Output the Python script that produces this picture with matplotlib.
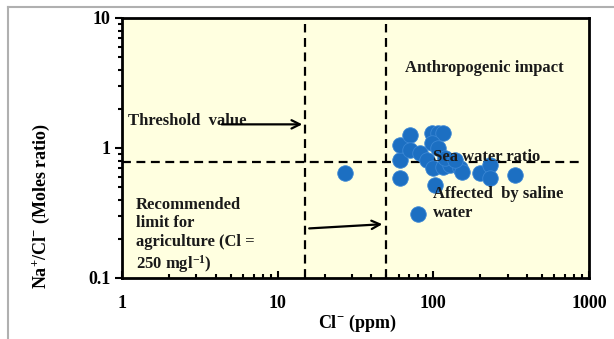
import matplotlib
matplotlib.use("Agg")
import matplotlib.pyplot as plt
from matplotlib.lines import Line2D
import numpy as np

plt.rcParams["font.family"] = ["Liberation Serif", "DejaVu Serif"]
plt.rcParams["font.weight"] = "bold"
plt.rcParams["mathtext.fontset"] = "custom"
plt.rcParams["mathtext.rm"] = "Liberation Serif:bold"
plt.rcParams["mathtext.default"] = "rm"

# Cl- (ppm) and Na+/Cl- molar ratio per sample
cl_ppm = [27, 61, 61, 61, 71, 71, 82, 98, 107, 115, 98, 107, 91, 99, 115,
          128, 148, 152, 199, 231, 231, 334, 102, 80, 118, 137]
na_cl = [0.64, 0.59, 0.81, 1.05, 1.26, 0.96, 0.92, 1.30, 1.30, 1.30, 1.09,
         1.00, 0.81, 0.70, 0.71, 0.74, 0.70, 0.65, 0.64, 0.74, 0.59, 0.62,
         0.52, 0.31, 0.84, 0.81]

sea_water_ratio = 0.78
threshold_cl = 15
agri_limit_cl = 50

fig = plt.figure(figsize=(6.14, 3.39), dpi=100)
ax = fig.add_axes([122 / 614, 1 - 278 / 339, (589 - 122) / 614, (278 - 18) / 339])
ax.set_facecolor("#ffffe0")

ax.set_xscale("log")
ax.set_yscale("log")
ax.set_xlim(1, 1000)
ax.set_ylim(0.1, 10)

ax.plot([1, 875], [sea_water_ratio, sea_water_ratio], ls=(0, (4, 2.5)),
        color="black", lw=1.6, zorder=2)
for xv in (threshold_cl, agri_limit_cl):
    ax.plot([xv, xv], [0.1, 9.0], ls=(0, (4, 2.5)), color="black", lw=1.6, zorder=2)

ax.scatter(cl_ppm, na_cl, s=125, color="#1c6fc2", edgecolors="#3a86d4",
           linewidths=0.6, zorder=3)

txt = dict(fontsize=12, fontweight="bold", color="#1a1a1a", zorder=4)
ax.text(1.1, 1.6, "Threshold  value", va="center", ha="left", **txt)
ax.annotate("", xy=(15.0, 1.52), xytext=(4.2, 1.52),
            arrowprops=dict(arrowstyle="->", lw=1.6, color="black",
                            mutation_scale=15), zorder=4)
ax.text(66, 4.1, "Anthropogenic impact", va="center", ha="left", **txt)
ax.text(99, 0.85, "Sea water ratio", va="center", ha="left", **txt)
ax.text(99, 0.375, "Affected  by saline\nwater", va="center", ha="left",
        linespacing=1.3, **txt)
ax.text(1.23, 0.21, "Recommended\nlimit for\nagriculture (Cl =\n250 mgl$^{-1}$)",
        va="center", ha="left", linespacing=1.22, **txt)
ax.annotate("", xy=(49, 0.26), xytext=(15.3, 0.24),
            arrowprops=dict(arrowstyle="->", lw=1.6, color="black",
                            mutation_scale=15), zorder=4)

ax.set_xticks([1, 10, 100, 1000])
ax.set_xticklabels(["1", "10", "100", "1000"])
ax.set_yticks([0.1, 1, 10])
ax.set_yticklabels(["0.1", "1", "10"])
ax.tick_params(axis="both", labelsize=13, width=1.5, color="black")
ax.tick_params(axis="x", which="major", direction="in", length=5, pad=12)
ax.tick_params(axis="x", which="minor", direction="in", length=3, width=1.5)
ax.tick_params(axis="y", which="major", direction="out", length=5, pad=3)
ax.tick_params(axis="y", which="minor", direction="out", length=3, width=1.5)
for lab in ax.get_xticklabels() + ax.get_yticklabels():
    lab.set_fontweight("bold")
for sp in ax.spines.values():
    sp.set_linewidth(2)

fig.text(357 / 614, 1 - 323 / 339, "Cl$^{-}$ (ppm)", ha="center", va="center",
         fontsize=13, fontweight="bold")
fig.text(41 / 614, 1 - 206 / 339, "Na$^{+}$/Cl$^{-}$ (Moles ratio)", ha="center",
         va="center", rotation=90, fontsize=13, fontweight="bold")

# outer chart-area frame
fig.add_artist(Line2D([8 / 614, 1], [1 - 7 / 339, 1 - 7 / 339],
                      transform=fig.transFigure, color="#b0b0b0", lw=1.5))
fig.add_artist(Line2D([8 / 614, 8 / 614], [0, 1 - 7 / 339],
                      transform=fig.transFigure, color="#b0b0b0", lw=1.5))

fig.savefig("out.png", dpi=100)
